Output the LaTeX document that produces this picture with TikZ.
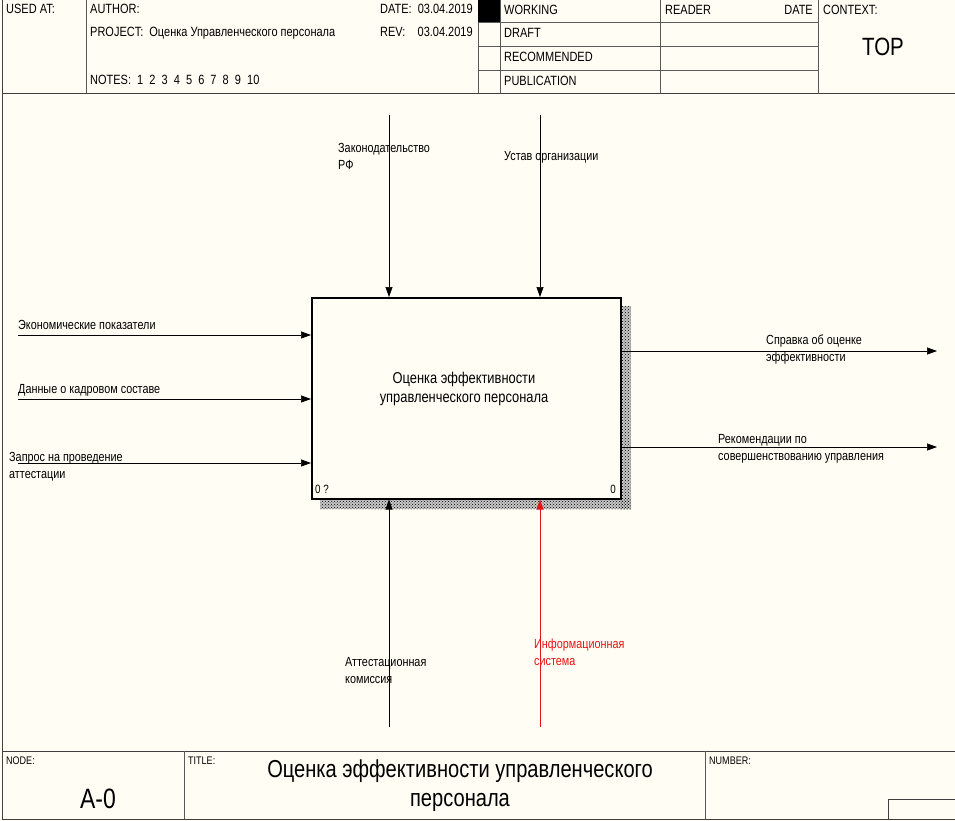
\documentclass[tikz,border=0pt]{standalone}
\usepackage{fontspec}
\setmainfont[FakeStretch=0.82]{Liberation Sans}
\usetikzlibrary{patterns,arrows.meta}
\definecolor{bg}{RGB}{255,253,244}
\definecolor{idefred}{RGB}{230,20,20}
\begin{document}
\begin{tikzpicture}[x=1pt,y=-1pt,
  frame/.style={draw=black!75, line width=0.9pt},
  thin/.style={draw=black!65, line width=0.6pt},
  hdr/.style={font=\fontsize{13.4}{16}\selectfont, inner sep=0pt, anchor=base west},
  lbl/.style={font=\fontsize{13.2}{17}\selectfont, inner sep=0pt, anchor=base west, align=left},
  flow/.style={draw=black, line width=0.7pt, -{Triangle[length=10pt,width=7pt]}},
  redflow/.style={flow, draw=idefred, -{Triangle[length=10pt,width=7pt,fill=idefred]}},
  shadow/.style={pattern=crosshatch dots, pattern color=black}]
\useasboundingbox (0,0) rectangle (955,821);
\fill[bg] (0,0) rectangle (955,821);
% outer frame
\draw[frame] (2,0) -- (2,819) -- (955,819);
\draw[frame] (2,93) -- (955,93);
\draw[frame] (2,751) -- (955,751);
% header grid
\draw[thin] (86,0) -- (86,93);
\draw[thin] (478,0) -- (478,93);
\draw[thin] (500,0) -- (500,93);
\draw[thin] (660,0) -- (660,93);
\draw[thin] (818,0) -- (818,93);
\draw[thin] (478,22.5) -- (818,22.5);
\draw[thin] (478,46.5) -- (818,46.5);
\draw[thin] (478,70) -- (818,70);
\fill[black] (478,0) rectangle (500,22.5);
% header texts
\node[hdr] (usedat) at (6,14) {USED AT:};
\node[hdr] (author) at (90,14) {AUTHOR:};
\node[hdr] (project) at (90,37) {PROJECT:\ \ Оценка Управленческого персонала};
\node[hdr] (notes) at (90,85) {NOTES:\ \ 1\ \ 2\ \ 3\ \ 4\ \ 5\ \ 6\ \ 7\ \ 8\ \ 9\ \ 10};
\node[hdr] (date) at (380,14) {DATE:\ \ 03.04.2019};
\node[hdr] (rev) at (380,37) {REV:\ \ \ \ 03.04.2019};
\node[hdr] (working) at (504,15) {WORKING};
\node[hdr] (draft) at (504,38) {DRAFT};
\node[hdr] (recom) at (504,62) {RECOMMENDED};
\node[hdr] (publ) at (504,86) {PUBLICATION};
\node[hdr] (reader) at (665,15) {READER};
\node[hdr, anchor=base east] (rdate) at (813,15) {DATE};
\node[hdr] (context) at (823,15) {CONTEXT:};
\node[font=\fontsize{25}{28}\selectfont, inner sep=0pt] (top) at (883,47) {TOP};
% footer
\draw[thin] (184,751) -- (184,819);
\draw[thin] (705,751) -- (705,819);
\draw[frame] (888,819) -- (888,799.5) -- (955,799.5);
\node[hdr, font=\fontsize{11}{12}\selectfont] (nodelbl) at (6,764) {NODE:};
\node[hdr, font=\fontsize{11}{12}\selectfont] (titlelbl) at (188,764) {TITLE:};
\node[hdr, font=\fontsize{11}{12}\selectfont] (numlbl) at (709,764) {NUMBER:};
\node[font=\fontsize{28}{30}\selectfont, inner sep=0pt] (nodeval) at (98,799) {A-0};
\node[font=\fontsize{24.5}{29}\selectfont, inner sep=0pt, align=center] (titleval) at (460,786) {Оценка эффективности управленческого\\персонала};
% main box with shadow
\fill[black!22] (620,306) rectangle (631,509);
\fill[black!22] (320,498) rectangle (631,509);
\fill[shadow] (620,306) rectangle (631,509);
\fill[shadow] (320,498) rectangle (631,509);
\node[draw=black, line width=1.5pt, fill=bg, minimum width=309pt, minimum height=201pt, inner sep=0pt, anchor=north west] (box) at (311,297) {};
\node[font=\fontsize{15.7}{19}\selectfont, align=center, inner sep=0pt] (boxtitle) at (464,389) {Оценка эффективности\\управленческого персонала};
\node[font=\fontsize{12}{13}\selectfont, inner sep=0pt, anchor=base west] (boxnum) at (315,493) {0 ?};
\node[font=\fontsize{12}{13}\selectfont, inner sep=0pt, anchor=base east] (boxnode) at (616,493) {0};
% controls
\coordinate (c1) at (389,115);
\coordinate (c2) at (540,115);
\draw[flow] (c1) -- (c1 |- box.north);
\draw[flow] (c2) -- (c2 |- box.north);
\node[lbl] (c1l) at (338,170) {Законодательство\\РФ};
\node[lbl] (c2l) at (504,161) {Устав организации};
% inputs
\coordinate (i1) at (18,335);
\coordinate (i2) at (18,399);
\coordinate (i3) at (18,463);
\draw[flow] (i1) -- (i1 -| box.west);
\draw[flow] (i2) -- (i2 -| box.west);
\draw[flow] (i3) -- (i3 -| box.west);
\node[lbl] (i1l) at (18,329) {Экономические показатели};
\node[lbl] (i2l) at (18,393) {Данные о кадровом составе};
\node[lbl] (i3l) at (9,478) {Запрос на проведение\\аттестации};
% outputs
\coordinate (o1) at (937,351);
\coordinate (o2) at (937,447);
\draw[flow] (o1 -| box.east) -- (o1);
\draw[flow] (o2 -| box.east) -- (o2);
\node[lbl] (o1l) at (766,361) {Справка об оценке\\эффективности};
\node[lbl] (o2l) at (718,460) {Рекомендации по\\совершенствованию управления};
% mechanisms
\coordinate (m1) at (389,727);
\coordinate (m2) at (540,727);
\draw[flow] (m1) -- (m1 |- box.south);
\draw[redflow] (m2) -- (m2 |- box.south);
\node[lbl] (m1l) at (345,683) {Аттестационная\\комиссия};
\node[lbl, text=idefred] (m2l) at (534,665) {Информационная\\система};
\end{tikzpicture}
\end{document}
